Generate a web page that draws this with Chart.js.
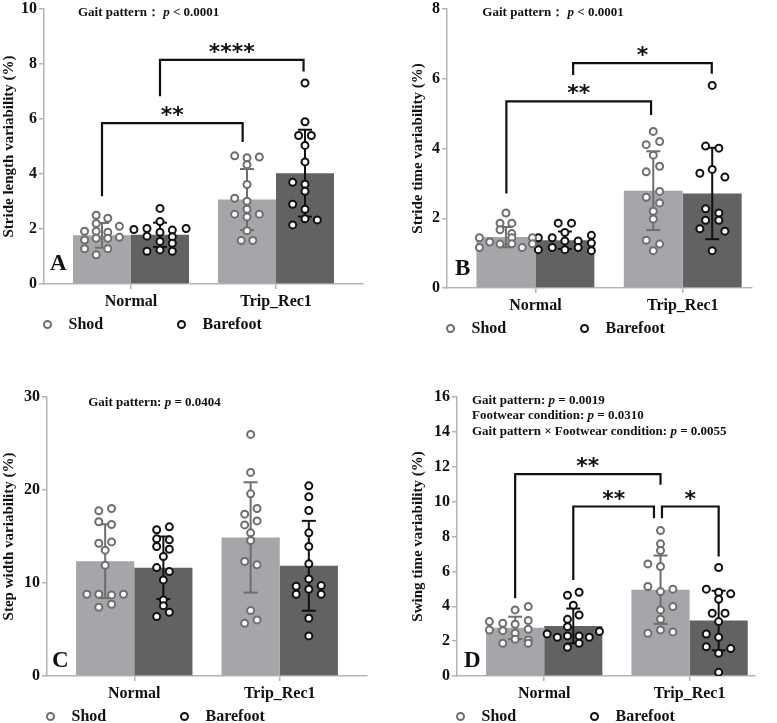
<!DOCTYPE html>
<html>
<head>
<meta charset="utf-8">
<script src="https://cdn.jsdelivr.net/npm/chart.js@4.4.1/dist/chart.umd.min.js"></script>
<style>
  body { margin: 0; background: #fff; }
  #wrap { position: relative; width: 777px; height: 723px; overflow: hidden; }
  canvas { position: absolute; }
  .lg { position: absolute; display: flex; font: bold 16px "Liberation Serif", "Times New Roman", serif; color: #111; line-height: 20px; }
  .lg-item { display: flex; align-items: center; width: 134px; }
  .lg-dot { width: 5px; height: 5px; border: 2px solid #111; border-radius: 50%; background: #fff; margin-right: 17px; }
</style>
</head>
<body>
<div id="wrap">
  <canvas id="panelA" width="390" height="320" style="left:0;top:0"></canvas>
  <canvas id="panelB" width="387" height="320" style="left:390px;top:0"></canvas>
  <canvas id="panelC" width="390" height="330" style="left:0;top:380px"></canvas>
  <canvas id="panelD" width="387" height="330" style="left:390px;top:380px"></canvas>
</div>
<script>
// data
const categories = ['Normal', 'Trip_Rec1'];
const seriesNames = ['Shod', 'Barefoot'];

// A: stride length variability
const strideLenShodMean = [1.77, 3.07];
const strideLenShodSd = [0.45, 1.11];
const strideLenBareMean = [1.79, 4.03];
const strideLenBareSd = [0.44, 1.58];
// [jitter, value] per subject, one list per category
const strideLenShodPts = [
  [[-0.04,2.50],[0.04,2.39],[-0.04,2.20],[0.12,2.10],[-0.12,1.92],[-0.04,1.92],[0.04,1.88],[-0.12,1.60],[-0.04,1.66],[0.04,1.66],[0.12,1.70],[-0.12,1.28],[0.04,1.28],[-0.04,1.06]],
  [[-0.085,4.66],[0,4.59],[0.085,4.62],[0,4.34],[0,3.62],[-0.085,3.12],[0,3.01],[0,2.72],[-0.085,2.54],[0.085,2.54],[0,2.44],[0,1.94],[-0.04,1.58],[0.04,1.58]]
];
const strideLenBarePts = [
  [[0,2.75],[0,2.27],[-0.18,1.98],[-0.09,2.02],[0.085,1.96],[0.18,2.02],[0,1.88],[-0.09,1.74],[0.085,1.72],[0,1.55],[0.085,1.48],[-0.09,1.19],[0,1.24],[0.085,1.19]],
  [[0,7.31],[0,5.90],[-0.044,5.40],[0.044,5.40],[0,5.04],[0,4.44],[-0.085,3.70],[0,3.63],[0,3.37],[-0.085,2.90],[0,2.72],[0,2.37],[0.085,2.33],[-0.085,2.15]]
];

// B: stride time variability
const strideTimeShodMean = [1.46, 2.79];
const strideTimeShodSd = [0.29, 1.13];
const strideTimeBareMean = [1.37, 2.71];
const strideTimeBareSd = [0.25, 1.31];
const strideTimeShodPts = [
  [[0,2.15],[-0.04,1.86],[0.04,1.86],[-0.04,1.67],[0.04,1.56],[-0.18,1.44],[0.04,1.44],[0.18,1.44],[-0.11,1.32],[-0.04,1.26],[0.04,1.27],[0.18,1.27],[-0.18,1.16],[0.11,1.16]],
  [[0,4.49],[-0.048,4.11],[0.043,4.20],[0,3.81],[0.043,3.49],[-0.048,3.33],[0.043,2.77],[-0.048,2.60],[0.043,2.44],[0,2.20],[0,1.98],[-0.048,1.37],[0.043,1.26],[0,1.07]]
];
const strideTimeBarePts = [
  [[-0.045,1.86],[0.045,1.86],[0,1.59],[-0.18,1.44],[-0.086,1.44],[0.18,1.51],[0,1.35],[0.09,1.35],[0.18,1.29],[-0.18,1.10],[-0.086,1.16],[0,1.10],[0.09,1.16],[0.18,1.07]],
  [[0,5.81],[-0.045,4.07],[0.045,4.01],[0,3.40],[-0.084,3.29],[0.086,3.18],[-0.045,2.27],[0.045,2.15],[-0.045,1.94],[0.045,1.94],[-0.084,1.70],[0.086,1.63],[0,1.07]]
];

// C: step width variability
const stepWidthShodMean = [12.35, 14.9];
const stepWidthShodSd = [3.97, 5.93];
const stepWidthBareMean = [11.64, 11.85];
const stepWidthBareSd = [3.36, 4.83];
const stepWidthShodPts = [
  [[-0.044,17.76],[0.044,18.01],[-0.044,16.58],[0.044,16.29],[-0.044,14.28],[0.044,14.42],[0,13.53],[0,11.91],[-0.126,8.79],[-0.044,8.79],[0.044,8.72],[0.126,8.79],[-0.044,7.39],[0.044,7.71]],
  [[0,25.98],[0,21.89],[0,19.59],[0.044,18.01],[-0.041,17.40],[0.044,16.68],[-0.041,16.25],[0,15.39],[0,14.57],[-0.041,12.31],[0.044,11.95],[0,7.03],[-0.041,5.67],[0.044,6.03]]
];
const stepWidthBarePts = [
  [[-0.046,15.72],[0.041,16.04],[-0.046,14.75],[0.041,14.64],[-0.046,13.92],[0.041,13.63],[0,12.85],[-0.046,11.66],[0.041,11.23],[0,10.33],[0,8.18],[0,7.56],[-0.046,6.40],[0.041,6.85]],
  [[0,20.45],[0,19.27],[0,17.80],[0,15.39],[0,13.92],[0,12.06],[0,10.44],[-0.087,9.65],[0.085,9.72],[0,9.33],[-0.087,8.79],[0.085,8.79],[0,6.21],[0,4.31]]
];

// D: swing time variability
const swingTimeShodMean = [2.76, 4.95];
const swingTimeShodSd = [0.64, 1.96];
const swingTimeBareMean = [2.87, 3.18];
const swingTimeBareSd = [1.0, 1.71];
const swingTimeShodPts = [
  [[0.09,3.98],[0,3.79],[-0.177,3.12],[-0.085,3.02],[0.09,3.18],[0,2.97],[-0.177,2.64],[-0.085,2.60],[0.09,2.68],[0,2.45],[0,2.11],[0.09,2.07],[-0.085,1.88],[0.09,1.88]],
  [[0,8.34],[0,7.58],[0,7.20],[-0.087,6.43],[0,6.28],[-0.087,5.13],[0,4.84],[0.085,4.98],[0.085,3.98],[0,3.79],[0,3.25],[0,2.64],[-0.087,2.45],[0.085,2.53]]
];
const swingTimeBarePts = [
  [[0.04,4.80],[-0.04,4.63],[0,4.06],[0.04,3.50],[-0.04,3.25],[-0.04,2.83],[-0.18,2.41],[-0.11,2.22],[-0.04,2.30],[0.04,2.30],[0.18,2.55],[0.11,2.22],[0.04,1.88],[-0.04,1.65]],
  [[0,6.22],[-0.085,4.98],[0.083,4.71],[0,4.80],[0,4.40],[-0.044,3.60],[0.044,3.60],[0,3.12],[-0.085,2.41],[0,2.22],[-0.085,1.68],[0.083,1.57],[0,1.30],[0,0.21]]
];

// significance brackets and notes (data units)
const marks = {
  panelA: {
    letter: 'A', letterDx: 6, letterDy: 14,
    notes: [{ x: -0.366, y: 9.85, parts: [['Gait pattern：', 0], [' ', 0], ['p', 1], [' < 0.0001', 0]] }],
    brackets: [
      { x1: -0.2, y1: 3.19, x2: 0.77, y2: 5.16, top: 5.85, label: '**' },
      { x1: 0.2, y1: 6.83, x2: 1.19, y2: 7.73, top: 8.15, label: '****' }
    ]
  },
  panelB: {
    letter: 'B', letterDx: 8, letterDy: 13,
    notes: [{ x: -0.36, y: 7.89, parts: [['Gait pattern：', 0], [' ', 0], ['p', 1], [' < 0.0001', 0]] }],
    brackets: [
      { x1: -0.197, y1: 2.71, x2: 0.785, y2: 4.96, top: 5.35, label: '**' },
      { x1: 0.256, y1: 6.11, x2: 1.197, y2: 6.14, top: 6.45, label: '*' }
    ]
  },
  panelC: {
    letter: 'C', letterDx: 5, letterDy: 9,
    notes: [{ x: -0.317, y: 29.35, parts: [['Gait pattern: ', 0], ['p', 1], [' = 0.0404', 0]] }],
    brackets: []
  },
  panelD: {
    letter: 'D', letterDx: 7, letterDy: 9,
    notes: [
      { x: -0.497, y: 15.79, parts: [['Gait pattern: ', 0], ['p', 1], [' = 0.0019', 0]] },
      { x: -0.497, y: 14.91, parts: [['Footwear condition: ', 0], ['p', 1], [' = 0.0310', 0]] },
      { x: -0.497, y: 14.03, parts: [['Gait pattern × Footwear condition: ', 0], ['p', 1], [' = 0.0055', 0]] }
    ],
    brackets: [
      { x1: -0.2, y1: 4.46, x2: 0.80, y2: 10.97, top: 11.58, label: '**' },
      { x1: 0.2, y1: 5.51, x2: 0.755, y2: 9.05, top: 9.72, label: '**' },
      { x1: 0.81, y1: 9.05, x2: 1.2, y2: 6.85, top: 9.72, label: '*' }
    ]
  }
};

// styles
const SERIF = '"Liberation Serif", "Times New Roman", serif';
Chart.defaults.font.family = SERIF;
Chart.defaults.color = '#111';
const shodBar = '#a5a5aa', bareBar = '#626262';
const shodInk = '#6e6e6e', bareInk = '#111111';
const axisGray = '#b4b4b4';

function errorBars(mean, sd, off) {
  const out = [];
  mean.forEach((m, i) => {
    out.push({ x: i + off, y: m - sd[i] }, { x: i + off, y: m + sd[i] }, { x: i + off, y: null });
  });
  return out;
}

function spread(pts, off) {
  return pts.flatMap((grp, i) => grp.map(([dx, v]) => ({ x: i + off + dx, y: v })));
}

const sigPlugin = {
  id: 'sig',
  afterDatasetsDraw(chart) {
    const m = marks[chart.canvas.id];
    const { ctx, chartArea: a } = chart;
    const xs = chart.scales.x, ys = chart.scales.y;
    ctx.save();
    ctx.strokeStyle = '#111';
    ctx.fillStyle = '#111';
    ctx.lineWidth = 2.2;
    m.brackets.forEach(b => {
      const x1 = xs.getPixelForValue(b.x1), x2 = xs.getPixelForValue(b.x2);
      const yt = ys.getPixelForValue(b.top);
      ctx.beginPath();
      ctx.moveTo(x1, ys.getPixelForValue(b.y1));
      ctx.lineTo(x1, yt);
      ctx.lineTo(x2, yt);
      ctx.lineTo(x2, ys.getPixelForValue(b.y2));
      ctx.stroke();
      ctx.font = 'bold 22px "DejaVu Sans"';
      ctx.textAlign = 'center';
      ctx.textBaseline = 'alphabetic';
      ctx.fillText(b.label, (x1 + x2) / 2, yt - 1);
    });
    ctx.textAlign = 'left';
    ctx.textBaseline = 'middle';
    m.notes.forEach(n => {
      let px = xs.getPixelForValue(n.x);
      const py = ys.getPixelForValue(n.y);
      n.parts.forEach(([t, it]) => {
        ctx.font = (it ? 'italic ' : '') + 'bold 13px ' + SERIF;
        ctx.fillText(t, px, py);
        px += ctx.measureText(t).width;
      });
    });
    ctx.font = 'bold 23px ' + SERIF;
    ctx.textBaseline = 'alphabetic';
    ctx.fillText(m.letter, a.left + m.letterDx, a.bottom - m.letterDy);
    ctx.restore();
  }
};

function htmlLegend(chart, colors) {
  const a = chart.chartArea;
  const c = chart.canvas;
  const box = document.createElement('div');
  box.className = 'lg';
  box.style.left = (c.offsetLeft + a.left - 1.5) + 'px';
  box.style.top = (c.offsetTop + a.bottom + 30) + 'px';
  seriesNames.forEach((name, i) => {
    const item = document.createElement('div');
    item.className = 'lg-item';
    const dot = document.createElement('span');
    dot.className = 'lg-dot';
    dot.style.borderColor = colors[i];
    const txt = document.createElement('span');
    txt.textContent = name;
    item.appendChild(dot);
    item.appendChild(txt);
    box.appendChild(item);
  });
  document.getElementById('wrap').appendChild(box);
}

function makePanel(p) {
  const axisGrid = { drawOnChartArea: false, tickLength: 5, color: axisGray, lineWidth: 1.5, offset: false };
  const chart = new Chart(document.getElementById(p.id), {
    type: 'bar',
    data: {
      datasets: [
        { type: 'bar', label: seriesNames[0], data: p.shodMean.map((v, i) => ({ x: i, y: v })),
          backgroundColor: shodBar, categoryPercentage: 0.8, barPercentage: 1, order: 3 },
        { type: 'bar', label: seriesNames[1], data: p.bareMean.map((v, i) => ({ x: i, y: v })),
          backgroundColor: bareBar, categoryPercentage: 0.8, barPercentage: 1, order: 3 },
        { type: 'line', label: 'Shod SD', data: errorBars(p.shodMean, p.shodSd, -0.2),
          borderColor: shodInk, borderWidth: 2, pointStyle: 'line', pointRadius: 7,
          pointBorderColor: shodInk, pointBorderWidth: 2, spanGaps: false, order: 2 },
        { type: 'line', label: 'Barefoot SD', data: errorBars(p.bareMean, p.bareSd, 0.2),
          borderColor: bareInk, borderWidth: 2, pointStyle: 'line', pointRadius: 7,
          pointBorderColor: bareInk, pointBorderWidth: 2, spanGaps: false, order: 2 },
        { type: 'scatter', label: seriesNames[0], data: spread(p.shodPts, -0.2),
          pointRadius: 3.5, pointBorderWidth: 2, pointBorderColor: shodInk, pointBackgroundColor: '#fff', order: 1 },
        { type: 'scatter', label: seriesNames[1], data: spread(p.barePts, 0.2),
          pointRadius: 3.5, pointBorderWidth: 2, pointBorderColor: bareInk, pointBackgroundColor: '#fff', order: 1 }
      ]
    },
    options: {
      responsive: false,
      animation: false,
      events: [],
      layout: { padding: { top: p.padTop, right: p.padRight, left: 0, bottom: 0 } },
      plugins: { legend: { display: false }, tooltip: { enabled: false } },
      scales: {
        x: {
          type: 'linear', min: p.xMin, max: p.xMax, offset: false,
          grid: axisGrid,
          border: { color: axisGray, width: 1.5 },
          afterBuildTicks: s => { s.ticks = categories.map((c, i) => ({ value: i })); },
          ticks: { callback: v => categories[v], font: { size: 16, weight: 'bold' }, padding: 3, maxRotation: 0, autoSkip: false },
          afterFit: s => { s.height = p.xAxisH; }
        },
        y: {
          min: 0, max: p.yMax,
          grid: axisGrid,
          border: { color: axisGray, width: 1.5 },
          ticks: { stepSize: p.yStep, font: { size: 16, weight: 'bold' }, padding: 2 },
          title: { display: true, text: p.title, font: { size: 15, weight: 'bold' }, padding: { top: p.titlePad, bottom: 0 } },
          afterFit: s => { s.width = p.yAxisW; s.paddingTop = 0; s.paddingBottom = 0; }
        }
      }
    },
    plugins: [sigPlugin]
  });
  htmlLegend(chart, [shodInk, bareInk]);
}

makePanel({ id: 'panelA', title: 'Stride length variability (%)', yMax: 10, yStep: 2,
  xMin: -0.6, xMax: 1.6, padTop: 5, padRight: 27, yAxisW: 44, xAxisH: 36, titlePad: 0,
  shodMean: strideLenShodMean, shodSd: strideLenShodSd, bareMean: strideLenBareMean, bareSd: strideLenBareSd,
  shodPts: strideLenShodPts, barePts: strideLenBarePts });

makePanel({ id: 'panelB', title: 'Stride time variability (%)', yMax: 8, yStep: 2,
  xMin: -0.6, xMax: 1.47, padTop: 6, padRight: 25, yAxisW: 57, xAxisH: 32, titlePad: 19,
  shodMean: strideTimeShodMean, shodSd: strideTimeShodSd, bareMean: strideTimeBareMean, bareSd: strideTimeBareSd,
  shodPts: strideTimeShodPts, barePts: strideTimeBarePts });

makePanel({ id: 'panelC', title: 'Step width variability (%)', yMax: 30, yStep: 10,
  xMin: -0.6, xMax: 1.6, padTop: 17, padRight: 23, yAxisW: 47, xAxisH: 34, titlePad: 0,
  shodMean: stepWidthShodMean, shodSd: stepWidthShodSd, bareMean: stepWidthBareMean, bareSd: stepWidthBareSd,
  shodPts: stepWidthShodPts, barePts: stepWidthBarePts });

makePanel({ id: 'panelD', title: 'Swing time variability (%)', yMax: 16, yStep: 2,
  xMin: -0.6, xMax: 1.45, padTop: 17, padRight: 22, yAxisW: 67, xAxisH: 34, titlePad: 19,
  shodMean: swingTimeShodMean, shodSd: swingTimeShodSd, bareMean: swingTimeBareMean, bareSd: swingTimeBareSd,
  shodPts: swingTimeShodPts, barePts: swingTimeBarePts });
</script>
</body>
</html>
